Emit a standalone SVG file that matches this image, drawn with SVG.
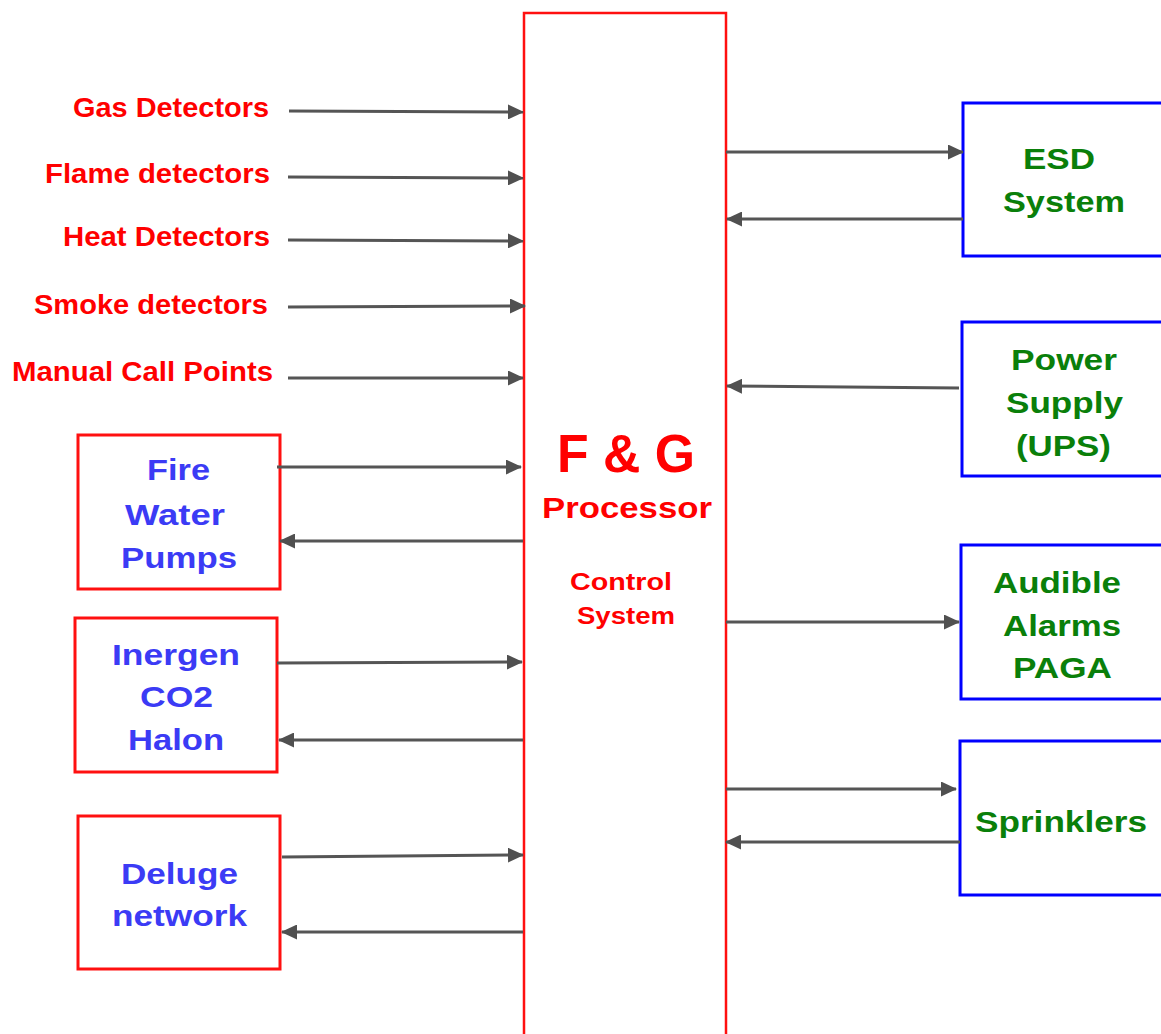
<svg xmlns="http://www.w3.org/2000/svg" width="1161" height="1034" viewBox="0 0 1161 1034">
<defs>
<marker id="ah" markerWidth="16" markerHeight="15" refX="15" refY="7.5" orient="auto" markerUnits="userSpaceOnUse">
<path d="M0,0 L16,7.5 L0,15 Z" fill="#505050"/>
</marker>
<style>
.ln{stroke:#555;stroke-width:3;fill:none;marker-end:url(#ah)}
.rb{fill:#fff;stroke:#ff1010;stroke-width:3}
.pb{fill:#fff;stroke:#ff1010;stroke-width:2.5}
.bb{fill:#fff;stroke:#0000ff;stroke-width:3}
.lab{font-family:"Liberation Sans",Arial,sans-serif;font-weight:bold;font-size:27px;fill:#ff0000;text-anchor:end}
.bt{font-family:"Liberation Sans",Arial,sans-serif;font-weight:bold;font-size:30px;fill:#3b3bf5;text-anchor:middle}
.gt{font-family:"Liberation Sans",Arial,sans-serif;font-weight:bold;font-size:30px;fill:#0a7f0a;text-anchor:middle}
.ct{font-family:"Liberation Sans",Arial,sans-serif;font-weight:bold;fill:#ff0000;text-anchor:middle}
</style>
</defs>
<rect width="1161" height="1034" fill="#fff"/>
<g id="processor">
<rect x="524" y="13" width="202" height="1030" class="pb"/>
<text x="626" y="472" class="ct" font-size="54" textLength="138" lengthAdjust="spacingAndGlyphs">F &amp; G</text>
<text x="627" y="518" class="ct" font-size="30" textLength="170" lengthAdjust="spacingAndGlyphs">Processor</text>
<text x="621" y="590" class="ct" font-size="23" textLength="102" lengthAdjust="spacingAndGlyphs">Control</text>
<text x="626" y="624" class="ct" font-size="23" textLength="98" lengthAdjust="spacingAndGlyphs">System</text>
</g>
<g id="gas"><text x="269" y="117" class="lab" textLength="196" lengthAdjust="spacingAndGlyphs">Gas Detectors</text></g>
<g id="flame"><text x="270" y="183" class="lab" textLength="225" lengthAdjust="spacingAndGlyphs">Flame detectors</text></g>
<g id="heat"><text x="270" y="246" class="lab" textLength="207" lengthAdjust="spacingAndGlyphs">Heat Detectors</text></g>
<g id="smoke"><text x="268" y="314" class="lab" textLength="234" lengthAdjust="spacingAndGlyphs">Smoke detectors</text></g>
<g id="mcp"><text x="273" y="381" class="lab" textLength="261" lengthAdjust="spacingAndGlyphs">Manual Call Points</text></g>
<g id="fwp">
<rect x="78" y="435" width="202" height="154" class="rb"/>
<text x="178.5" y="480" class="bt" textLength="63" lengthAdjust="spacingAndGlyphs">Fire</text>
<text x="175" y="525" class="bt" textLength="100" lengthAdjust="spacingAndGlyphs">Water</text>
<text x="179" y="568" class="bt" textLength="116" lengthAdjust="spacingAndGlyphs">Pumps</text>
</g>
<g id="inergen">
<rect x="75" y="618" width="202" height="154" class="rb"/>
<text x="176" y="665" class="bt" textLength="128" lengthAdjust="spacingAndGlyphs">Inergen</text>
<text x="176.5" y="707" class="bt" textLength="73" lengthAdjust="spacingAndGlyphs">CO2</text>
<text x="176" y="750" class="bt" textLength="96" lengthAdjust="spacingAndGlyphs">Halon</text>
</g>
<g id="deluge">
<rect x="78" y="816" width="202" height="153" class="rb"/>
<text x="179.5" y="884" class="bt" textLength="117" lengthAdjust="spacingAndGlyphs">Deluge</text>
<text x="179.5" y="926" class="bt" textLength="135" lengthAdjust="spacingAndGlyphs">network</text>
</g>
<g id="esd">
<rect x="963" y="103" width="210" height="153" class="bb"/>
<text x="1059" y="169" class="gt" textLength="72" lengthAdjust="spacingAndGlyphs">ESD</text>
<text x="1064" y="212" class="gt" textLength="122" lengthAdjust="spacingAndGlyphs">System</text>
</g>
<g id="power">
<rect x="962" y="322" width="210" height="154" class="bb"/>
<text x="1064" y="370" class="gt" textLength="106" lengthAdjust="spacingAndGlyphs">Power</text>
<text x="1064.5" y="413" class="gt" textLength="117" lengthAdjust="spacingAndGlyphs">Supply</text>
<text x="1063.5" y="456" class="gt" textLength="95" lengthAdjust="spacingAndGlyphs">(UPS)</text>
</g>
<g id="alarms">
<rect x="961" y="545" width="210" height="154" class="bb"/>
<text x="1057" y="593" class="gt" textLength="128" lengthAdjust="spacingAndGlyphs">Audible</text>
<text x="1062" y="636" class="gt" textLength="118" lengthAdjust="spacingAndGlyphs">Alarms</text>
<text x="1062.5" y="678" class="gt" textLength="99" lengthAdjust="spacingAndGlyphs">PAGA</text>
</g>
<g id="sprinklers">
<rect x="960" y="741" width="210" height="154" class="bb"/>
<text x="1061" y="832" class="gt" textLength="172" lengthAdjust="spacingAndGlyphs">Sprinklers</text>
</g>
<g id="connectors">
<line x1="289" y1="111" x2="523" y2="112" class="ln"/>
<line x1="288" y1="177" x2="523" y2="178" class="ln"/>
<line x1="288" y1="240" x2="523" y2="241" class="ln"/>
<line x1="288" y1="307" x2="525" y2="306" class="ln"/>
<line x1="288" y1="378" x2="523" y2="378" class="ln"/>
<line x1="277" y1="467" x2="521" y2="467" class="ln"/>
<line x1="523" y1="541" x2="280" y2="541" class="ln"/>
<line x1="277" y1="663" x2="522" y2="662" class="ln"/>
<line x1="523" y1="740" x2="279" y2="740" class="ln"/>
<line x1="282" y1="857" x2="523" y2="855" class="ln"/>
<line x1="523" y1="932" x2="282" y2="932" class="ln"/>
<line x1="726" y1="152" x2="963" y2="152" class="ln"/>
<line x1="963" y1="219" x2="727" y2="219" class="ln"/>
<line x1="959" y1="388" x2="727" y2="386" class="ln"/>
<line x1="726" y1="622" x2="959" y2="622" class="ln"/>
<line x1="726" y1="789" x2="956" y2="789" class="ln"/>
<line x1="960" y1="842" x2="726" y2="842" class="ln"/>
</g>
</svg>
